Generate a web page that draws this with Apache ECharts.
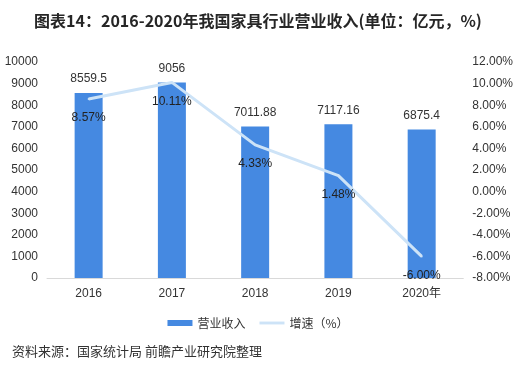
<!DOCTYPE html>
<html><head><meta charset="utf-8">
<script src="https://cdn.jsdelivr.net/npm/echarts@6/dist/echarts.min.js"></script>
<style>html,body{margin:0;padding:0;background:#fff}#c{width:516px;height:369px}</style>
</head><body><div id="c"></div>
<script>
var categories = ['2016','2017','2018','2019','2020年'];
var revenue = [8559.5, 9056, 7011.88, 7117.16, 6875.4];
var growth = [8.57, 10.11, 4.33, 1.48, -6.00];

var chart = echarts.init(document.getElementById('c'));
var ff = '"Liberation Sans", "Noto Sans CJK SC", sans-serif';
chart.setOption({
  animation: false,
  textStyle: {fontFamily: ff},
  title: [{
    text: '图表14：2016-2020年我国家具行业营业收入(单位：亿元，%)',
    left: 'center', top: 8,
    textStyle: {fontSize: 16, fontWeight: 'bold', color: '#262626', fontFamily: '"Noto Sans CJK SC", sans-serif'}
  },{
    text: '资料来源：国家统计局 前瞻产业研究院整理',
    left: 7, top: 340,
    textStyle: {fontSize: 13, fontWeight: 'normal', color: '#333', fontFamily: '"Noto Sans CJK SC", sans-serif'}
  }],
  legend: {
    top: 312, left: 'center', itemGap: 14, itemWidth: 25, itemHeight: 6,
    textStyle: {fontSize: 12, color: '#333', fontFamily: '"Noto Sans CJK SC", sans-serif'},
    data: [{name: '营业收入', icon: 'rect'}, {name: '增速（%）', icon: 'path://M0,0L26,0L26,3L0,3Z', itemStyle: {color: '#cde3f7'}}]
  },
  grid: {left: 47, right: 48, top: 62, bottom: 91},
  xAxis: {
    type: 'category', data: categories,
    axisLine: {lineStyle: {color: '#d9d9d9'}},
    axisTick: {show: false},
    axisLabel: {color: '#333', fontSize: 12, margin: 10}
  },
  yAxis: [{
    type: 'value', min: 0, max: 10000, interval: 1000,
    axisLine: {show: false}, axisTick: {show: false},
    splitLine: {show: false},
    axisLabel: {color: '#333', fontSize: 12, margin: 9, formatter: function(v){return String(v);}}
  },{
    type: 'value', min: -8, max: 12, interval: 2,
    axisLine: {show: false}, axisTick: {show: false},
    splitLine: {show: false},
    axisLabel: {color: '#333', fontSize: 12, margin: 9, formatter: function(v){return v.toFixed(2)+'%';}}
  }],
  series: [{
    name: '营业收入', type: 'bar', data: revenue, barWidth: 28,
    itemStyle: {color: '#4589e1'},
    label: {show: true, position: 'top', distance: 8, color: '#333', fontSize: 12}
  },{
    name: '增速（%）', type: 'line', yAxisIndex: 1, data: growth,
    symbol: 'circle', symbolSize: 2, showSymbol: true,
    lineStyle: {color: '#cde3f7', width: 3},
    itemStyle: {color: '#cde3f7'},
    label: {show: true, position: 'bottom', distance: 12, color: '#222', fontSize: 12,
      formatter: function(p){return p.value.toFixed(2)+'%';}}
  }]
});
</script></body></html>
